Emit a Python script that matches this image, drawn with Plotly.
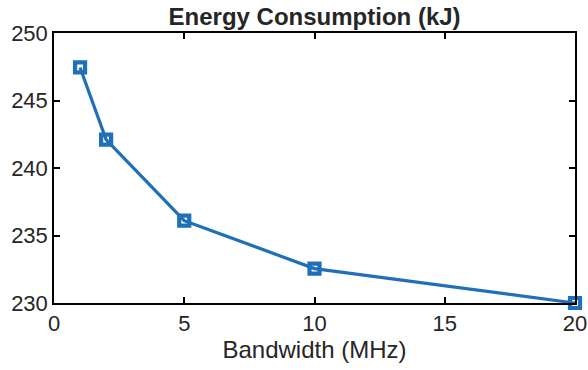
import plotly.graph_objects as go

bandwidth = [1, 2, 5, 10, 20]
energy = [247.45, 242.1, 236.1, 232.55, 230.0]
x_ticks = [0, 5, 10, 15, 20]
y_ticks = [230, 235, 240, 245, 250]

fig = go.Figure()
fig.add_trace(go.Scatter(
    x=bandwidth, y=energy, mode="lines+markers",
    line=dict(color="#1f70b8", width=3.2),
    marker=dict(symbol="square-open", size=10, color="#1f70b8", line=dict(width=4.2, color="#1f70b8")),
    cliponaxis=False, showlegend=False,
))

font_family = "Liberation Sans, Arial, sans-serif"
axis_common = dict(
    showline=True, linecolor="black", linewidth=1.5, mirror="ticks",
    ticks="inside", ticklen=6, tickwidth=1.5, tickcolor="black",
    showgrid=False, zeroline=False, automargin=False,
    tickfont=dict(family=font_family, size=22, color="#262626"),
)
fig.update_xaxes(range=[0, 20], tickvals=x_ticks, ticktext=[str(v) for v in x_ticks],
                 title=dict(text="Bandwidth (MHz)", font=dict(family=font_family, size=24, color="#262626"), standoff=4),
                 **axis_common)
fig.update_yaxes(range=[230, 250], tickvals=y_ticks, ticktext=[str(v) for v in y_ticks],
                 **axis_common)

fig.update_layout(
    width=588, height=370,
    margin=dict(l=54, r=13, t=33, b=67, autoexpand=False),
    plot_bgcolor="white", paper_bgcolor="white",
    title=dict(text="<b>Energy Consumption (kJ)</b>", x=0.535, xanchor="center", y=0.954, yanchor="middle",
               font=dict(family=font_family, size=24, color="#262626")),
)

fig.write_html("out.html")
